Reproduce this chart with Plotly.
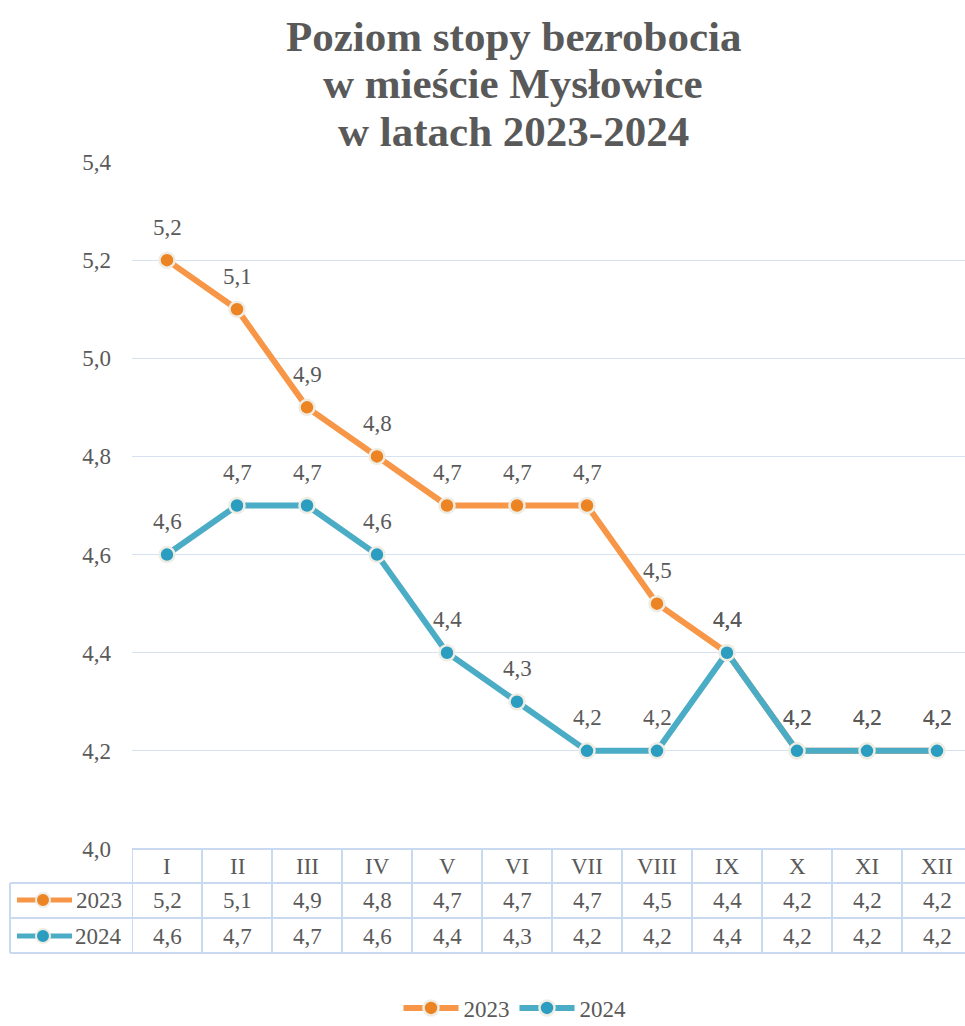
import plotly.graph_objects as go

months = ["I", "II", "III", "IV", "V", "VI", "VII", "VIII", "IX", "X", "XI", "XII"]
y2023 = [5.2, 5.1, 4.9, 4.8, 4.7, 4.7, 4.7, 4.5, 4.4, 4.2, 4.2, 4.2]
y2024 = [4.6, 4.7, 4.7, 4.6, 4.4, 4.3, 4.2, 4.2, 4.4, 4.2, 4.2, 4.2]
series_names = ["2023", "2024"]
y_ticks = [4.0, 4.2, 4.4, 4.6, 4.8, 5.0, 5.2, 5.4]
title_lines = ["Poziom stopy bezrobocia", "w mieście Mysłowice", "w latach 2023-2024"]

W, H = 965, 1026
L, R, T, B = 132, 965, 162, 849
PW, PH = R - L, B - T
COLW = 70.0  # pixel width of one month column
X_END = -0.5 + PW / COLW


def py(p):  # pixel y -> paper
    return (B - p) / PH


def pxx(p):  # pixel x -> paper
    return (p - L) / PW


def fmt(v):
    return f"{v:.1f}".replace(".", ",")


line_cols = ["#F79646", "#4BACC6"]
mark_cols = ["#EC8424", "#2A9DC0"]
border = "#EFEDE3"
txt = "#595959"
grid = "#D6E2F2"
FONT = "Liberation Serif"
FS = 23

xs = list(range(len(months)))
fig = go.Figure()
for name, ys, lc, mc in zip(series_names, [y2023, y2024], line_cols, mark_cols):
    fig.add_trace(go.Scatter(
        x=xs, y=ys, name=name, mode="lines+markers",
        line=dict(color=lc, width=6),
        marker=dict(size=15, color=mc, line=dict(color=border, width=2.5)),
        hoverinfo="skip", cliponaxis=False,
    ))

annotations = []
for ys in [y2023, y2024]:
    for i, v in enumerate(ys):
        annotations.append(dict(x=i, y=v, xref="x", yref="y", text=fmt(v), showarrow=False,
                                yshift=33, font=dict(family=FONT, size=FS, color=txt)))

shapes = []
lc_tab = "#C9DAF0"
row_tops = [849, 883, 918, 953]
shapes.append(dict(type="line", xref="paper", yref="paper", x0=0, x1=1, y0=py(849), y1=py(849),
                   line=dict(color=lc_tab, width=2)))
for yy in row_tops[1:]:
    shapes.append(dict(type="line", xref="paper", yref="paper", x0=pxx(10), x1=1, y0=py(yy), y1=py(yy),
                       line=dict(color=lc_tab, width=2)))
for k in range(len(months)):
    shapes.append(dict(type="line", xref="x", yref="paper", x0=k - 0.5, x1=k - 0.5, y0=py(849), y1=py(953),
                       line=dict(color=lc_tab, width=2)))
shapes.append(dict(type="line", xref="paper", yref="paper", x0=pxx(10), x1=pxx(10), y0=py(883), y1=py(953),
                   line=dict(color=lc_tab, width=2)))

for i, m in enumerate(months):
    annotations.append(dict(x=i, y=py(866), xref="x", yref="paper", text=m, showarrow=False,
                            font=dict(family=FONT, size=FS, color=txt), yanchor="middle"))
for name, ys, lc, mc, yc in zip(series_names, [y2023, y2024], line_cols, mark_cols, [900, 936]):
    for i, v in enumerate(ys):
        annotations.append(dict(x=i, y=py(yc), xref="x", yref="paper", text=fmt(v), showarrow=False,
                                font=dict(family=FONT, size=FS, color=txt), yanchor="middle"))
    shapes.append(dict(type="line", xref="paper", yref="paper", x0=pxx(17), x1=pxx(72), y0=py(yc), y1=py(yc),
                       line=dict(color=lc, width=5)))
    shapes.append(dict(type="circle", xref="paper", yref="paper", xsizemode="pixel", ysizemode="pixel",
                       xanchor=pxx(43), yanchor=py(yc), x0=-7, x1=7, y0=-7, y1=7,
                       fillcolor=mc, line=dict(color=border, width=2)))
    annotations.append(dict(x=pxx(124), y=py(yc), xref="paper", yref="paper", text=name, showarrow=False,
                            xanchor="right", yanchor="middle", font=dict(family=FONT, size=FS, color=txt)))

for line, yc in zip(title_lines, [36, 84, 131]):
    annotations.append(dict(x=pxx(513), y=py(yc), xref="paper", yref="paper", showarrow=False,
                            xanchor="center", yanchor="middle", text=f"<b>{line}</b>",
                            font=dict(family=FONT, size=43, color=txt)))

fig.update_layout(
    width=W, height=H,
    margin=dict(l=L, r=W - R, t=T, b=H - B, autoexpand=False),
    paper_bgcolor="white", plot_bgcolor="white",
    separators=", ",
    xaxis=dict(range=[-0.5, X_END], showticklabels=False, showgrid=False, zeroline=False,
               showline=False, ticks="", fixedrange=True),
    yaxis=dict(range=[4.0, 5.4], tickvals=y_ticks, ticktext=[fmt(v) for v in y_ticks],
               showgrid=True, gridcolor=grid, gridwidth=1, zeroline=False, showline=False,
               tickfont=dict(family=FONT, size=FS, color=txt), ticklabelstandoff=20),
    legend=dict(orientation="h", x=pxx(515), xanchor="center", y=py(1008), yanchor="middle",
                font=dict(family=FONT, size=FS, color=txt), bgcolor="rgba(0,0,0,0)", itemwidth=55),
    shapes=shapes, annotations=annotations,
    font=dict(family=FONT, color=txt),
)

fig.write_html("out.html", config={"displayModeBar": False},
               post_script="document.body.style.margin='0';document.body.style.overflow='hidden';")
